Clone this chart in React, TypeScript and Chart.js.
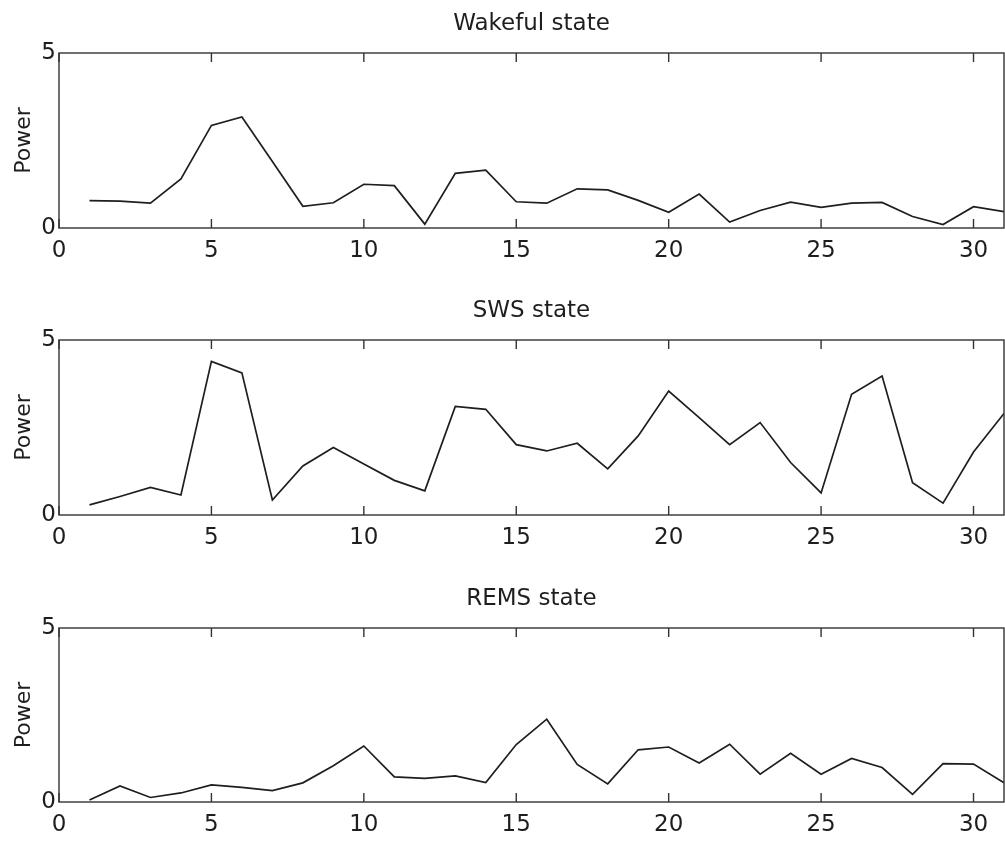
import React, { useEffect, useRef } from "react";
import { Chart, registerables } from "chart.js";

Chart.register(...registerables);

// ---- data ----
const freqs = [1, 2, 3, 4, 5, 6, 7, 8, 9, 10, 11, 12, 13, 14, 15, 16, 17, 18, 19, 20, 21, 22, 23, 24, 25, 26, 27, 28, 29, 30, 31];
const wakefulPower = [0.78, 0.77, 0.71, 1.4, 2.93, 3.17, 1.9, 0.62, 0.72, 1.25, 1.21, 0.11, 1.56, 1.65, 0.75, 0.71, 1.12, 1.09, 0.79, 0.45, 0.97, 0.17, 0.5, 0.74, 0.59, 0.71, 0.73, 0.33, 0.1, 0.61, 0.47];
const swsPower = [0.29, 0.53, 0.79, 0.57, 4.39, 4.06, 0.43, 1.4, 1.93, 1.46, 0.99, 0.69, 3.1, 3.02, 2.01, 1.83, 2.05, 1.32, 2.26, 3.54, 2.78, 2.01, 2.64, 1.5, 0.63, 3.45, 3.97, 0.92, 0.34, 1.8, 2.9];
const remsPower = [0.06, 0.46, 0.13, 0.26, 0.49, 0.42, 0.33, 0.55, 1.04, 1.61, 0.72, 0.68, 0.75, 0.56, 1.65, 2.38, 1.08, 0.52, 1.5, 1.58, 1.12, 1.66, 0.8, 1.4, 0.8, 1.25, 0.99, 0.22, 1.1, 1.09, 0.55];
const xTickValues = [0, 5, 10, 15, 20, 25, 30];
const yTickValues = [0, 5];
const xMin = 0;
const xMax = 31;
const yMin = 0;
const yMax = 5;
const panelTitles = ["Wakeful state", "SWS state", "REMS state"];
const yAxisLabel = "Power";

const FONT = "'DejaVu Sans', 'Liberation Sans', sans-serif";
const INK = "#1e1e1e";

const framePlugin = {
  id: "matlabFrame",
  afterDraw(chart: any) {
    const { ctx, chartArea, scales } = chart;
    const { left, right, top, bottom } = chartArea;
    const x = scales.x;
    ctx.save();
    ctx.strokeStyle = "#333";
    ctx.lineWidth = 1.4;
    ctx.strokeRect(left, top, right - left, bottom - top);
    ctx.beginPath();
    x.ticks.forEach((t: any) => {
      const px = x.getPixelForValue(t.value);
      ctx.moveTo(px, bottom);
      ctx.lineTo(px, bottom - 9);
      ctx.moveTo(px, top);
      ctx.lineTo(px, top + 9);
    });
    ctx.stroke();
    ctx.restore();
  },
};

type PanelProps = {
  title: string;
  values: number[];
  top: number;
  height: number;
  xAxisHeight: number;
};

function Panel({ title, values, top, height, xAxisHeight }: PanelProps) {
  const ref = useRef<HTMLCanvasElement | null>(null);
  useEffect(() => {
    if (!ref.current) return;
    const chart = new Chart(ref.current, {
      type: "line",
      data: {
        datasets: [
          {
            data: freqs.map((f, i) => ({ x: f, y: values[i] })),
            borderColor: INK,
            borderWidth: 1.7,
            pointRadius: 0,
            tension: 0,
            fill: false,
          },
        ],
      },
      options: {
        animation: false,
        responsive: false,
        maintainAspectRatio: false,
        layout: { padding: { left: 0, right: 1, top: 0, bottom: 0 } },
        plugins: {
          legend: { display: false },
          tooltip: { enabled: false },
          title: {
            display: true,
            text: title,
            fullSize: false,
            color: INK,
            font: { family: FONT, size: 23, weight: "normal" },
            padding: { top: 10, bottom: 15.4 },
          },
        },
        scales: {
          x: {
            type: "linear",
            min: xMin,
            max: xMax,
            grid: { display: false, drawTicks: false },
            border: { display: false },
            ticks: {
              stepSize: 5,
              padding: 9,
              color: INK,
              maxRotation: 0,
              font: { family: FONT, size: 23 },
            },
            afterBuildTicks: (axis: any) => {
              axis.ticks = xTickValues.map((v) => ({ value: v }));
            },
            afterFit: (axis: any) => {
              axis.height = xAxisHeight;
            },
          },
          y: {
            type: "linear",
            min: yMin,
            max: yMax,
            grid: { display: false, drawTicks: false },
            border: { display: false },
            ticks: {
              stepSize: 5,
              padding: 3,
              color: INK,
              font: { family: FONT, size: 23 },
            },
            afterBuildTicks: (axis: any) => {
              axis.ticks = yTickValues.map((v) => ({ value: v }));
            },
            afterFit: (axis: any) => {
              axis.width = 59;
            },
            title: {
              display: true,
              text: yAxisLabel,
              color: INK,
              font: { family: FONT, size: 22 },
              padding: { top: 11, bottom: 0 },
            },
          },
        },
      },
      plugins: [framePlugin],
    } as any);
    return () => chart.destroy();
  }, [title, values, xAxisHeight]);

  return (
    <canvas
      ref={ref}
      width={1005}
      height={height}
      style={{ position: "absolute", left: 0, top, width: 1005, height }}
    />
  );
}

export default function App() {
  return (
    <div style={{ position: "relative", width: 1005, height: 842, overflow: "hidden", background: "#fff" }}>
      <style>{`html,body{margin:0;padding:0;overflow:hidden;background:#fff}`}</style>
      <Panel title={panelTitles[0]} values={wakefulPower} top={0} height={287} xAxisHeight={59} />
      <Panel title={panelTitles[1]} values={swsPower} top={287} height={287} xAxisHeight={59} />
      <Panel title={panelTitles[2]} values={remsPower} top={575} height={267} xAxisHeight={40} />
    </div>
  );
}
